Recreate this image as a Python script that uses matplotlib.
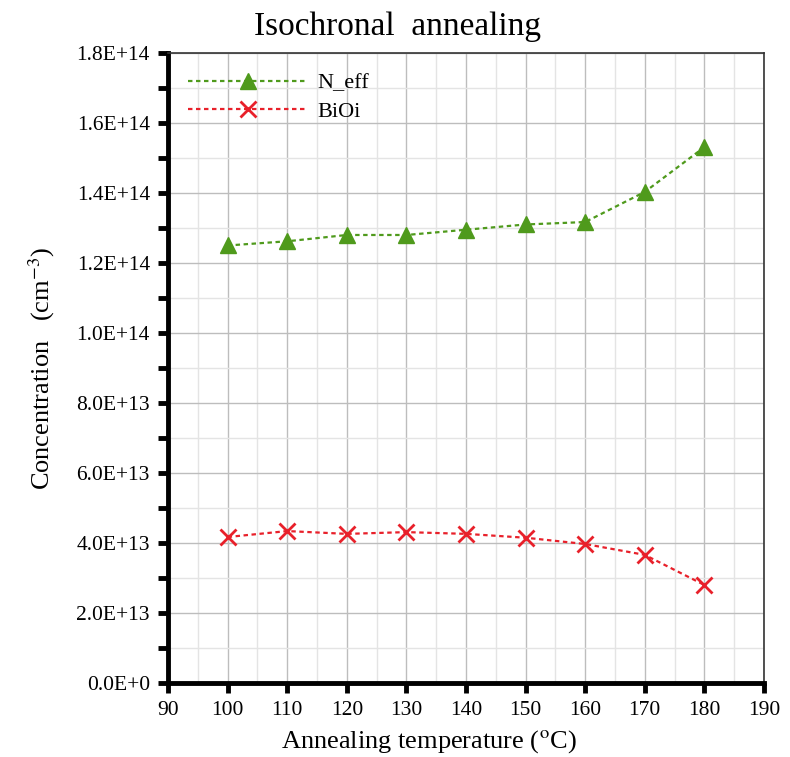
import numpy as np
from matplotlib import pyplot as plt
from matplotlib.ticker import FuncFormatter, MultipleLocator

plt.rcParams['font.family'] = ['Liberation Serif', 'DejaVu Serif']
plt.rcParams['mathtext.fontset'] = 'stix'

temperature = [100, 110, 120, 130, 140, 150, 160, 170, 180]
n_eff = [1.25e14, 1.262e14, 1.28e14, 1.28e14, 1.295e14, 1.31e14, 1.317e14, 1.403e14, 1.531e14]
bioi = [4.17e13, 4.34e13, 4.26e13, 4.31e13, 4.26e13, 4.15e13, 3.97e13, 3.66e13, 2.8e13]


def sci_label(v, pos):
    if v == 0:
        return "0.0E+0"
    e = int(np.floor(np.log10(abs(v))))
    m = v / 10 ** e
    return f"{m:.1f}E+{e}"


fig = plt.figure(figsize=(7.9, 7.57), dpi=100)
ax = fig.add_axes([0.2127, 0.0978, 0.7543, 0.8322])

ax.plot(temperature, n_eff, color='#4f9a1c', linestyle=(0, (2, 1.6)), linewidth=1.6,
        marker='^', markersize=11, label='N_eff')
ax.plot(temperature, bioi, color='#e8202a', linestyle=(0, (2, 1.6)), linewidth=1.6,
        marker='x', markersize=11, markeredgewidth=2, label='BiOi')

ax.set_xlim(90, 190)
ax.set_ylim(0, 1.8e14)
ax.xaxis.set_major_locator(MultipleLocator(10))
ax.xaxis.set_minor_locator(MultipleLocator(5))
ax.yaxis.set_major_locator(MultipleLocator(2e13))
ax.yaxis.set_minor_locator(MultipleLocator(1e13))
ax.yaxis.set_major_formatter(FuncFormatter(sci_label))

ax.grid(which='major', color='#bdbdbd', linewidth=1.0)
ax.grid(which='minor', color='#e4e4e4', linewidth=1.0)
ax.set_axisbelow(True)

ax.tick_params(axis='both', which='major', direction='out', length=7, width=3.5,
               labelsize=15.5, pad=6)
ax.tick_params(axis='y', which='minor', direction='out', length=7, width=3.5)
ax.tick_params(axis='x', which='minor', length=0)

for side in ['left', 'bottom']:
    ax.spines[side].set_linewidth(3.5)
for side in ['top', 'right']:
    ax.spines[side].set_linewidth(1.2)
    ax.spines[side].set_color('#333333')

ax.set_xlabel("Annealing temperature ($^{\\rm o}$C)", fontsize=19)
ax.xaxis.set_label_coords(0.437, -0.072)
ax.set_ylabel("Concentration   (cm$^{-3}$)", fontsize=19, labelpad=14)
fig.suptitle("Isochronal  annealing", fontsize=24, x=0.503, y=0.985)

ax.legend(loc='upper left', frameon=False, fontsize=16, handlelength=5.4,
          numpoints=1, borderaxespad=0.5, labelspacing=0.35, handletextpad=0.4)

fig.savefig('out.png', dpi=100)
